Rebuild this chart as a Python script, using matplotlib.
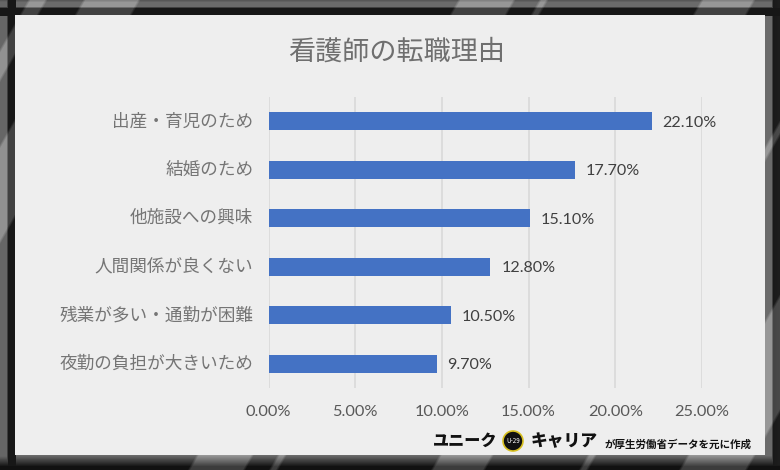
import numpy as np
import matplotlib
matplotlib.use('Agg')
import matplotlib.pyplot as plt
from matplotlib.patches import Rectangle, Circle
from matplotlib.transforms import ScaledTranslation

plt.rcParams['font.family'] = ['Noto Sans CJK JP', 'DejaVu Sans']

W, H = 780, 470

#### data ####
categories = ['夜勤の負担が大きいため', '残業が多い・通勤が困難', '人間関係が良くない',
              '他施設への興味', '結婚のため', '出産・育児のため']
values = [9.7, 10.5, 12.8, 15.1, 17.7, 22.1]
xticks = [0, 5, 10, 15, 20, 25]
title = '看護師の転職理由'

# diagonal bands of the frame, x + 0.575*y in pixels
bands = [(27, 47), (82, 140), (457, 515), (538, 548), (700, 755), (848, 858), (948, 1017)]

fig = plt.figure(figsize=(W / 100, H / 100), dpi=100)

#### frame ####
bg = fig.add_axes([0, 0, 1, 1])
bg.set_xlim(0, W)
bg.set_ylim(H, 0)
bg.axis('off')

yy, xx = np.mgrid[0:H, 0:W]
left_side = np.interp(xx, [0, 6, 8, 15, 15.01], [0.40, 0.40, 0.09, 0.09, 1])
top_side = np.interp(yy, [0, 2, 6, 8, 15, 15.01], [0.34, 0.42, 0.42, 0.09, 0.09, 1])
right_side = np.interp(xx, [765, 771, 773, 780], [0.42, 0.42, 0.10, 0.12], left=1)
bottom_side = np.interp(yy, [455, 466, 470], [0.42, 0.07, 0.07], left=1)
shade = np.minimum(np.minimum(left_side, right_side), np.minimum(top_side, bottom_side))
c = xx + 0.575 * yy
for c0, c1 in bands:
    shade = shade + 0.17 * np.clip((c - c0) / 3, 0, 1) * np.clip((c1 - c) / 3, 0, 1)
bg.imshow(shade, cmap='gray', vmin=0, vmax=1, extent=(0, W, H, 0), aspect='auto', zorder=0)
bg.add_patch(Rectangle((15, 15), 750, 440, color='#eeeeee', lw=0, zorder=2))

#### chart ####
left, right, top, bottom = 268.5, 702, 97, 388
ax = fig.add_axes([left / W, 1 - bottom / H, (right - left) / W, (bottom - top) / H])
ax.patch.set_alpha(0)
y = np.arange(len(categories))
ax.barh(y, values, height=0.37, color='#4472c4', zorder=3)
ax.set_xlim(0, 25)
ax.set_ylim(-0.5, len(categories) - 0.5)
ax.set_yticks(y)
ax.set_yticklabels(categories, fontsize=12.7, color='#757575')
ax.set_xticks(xticks)
ax.set_xticklabels(['%.2f%%' % v for v in xticks], fontsize=11.8, color='#595959',
                   family=['Lato', 'DejaVu Sans'])
ax.tick_params(length=0)
ax.tick_params(axis='y', pad=11)
ax.tick_params(axis='x', pad=12)
ax.grid(axis='x', color='#d9d9d9', lw=1.2, zorder=0)
for s in ax.spines.values():
    s.set_visible(False)

# category labels sit a bit above the bar centre
for lab in ax.get_yticklabels():
    lab.set_transform(lab.get_transform() + ScaledTranslation(0, 1.5 / 72, fig.dpi_scale_trans))

for i, v in enumerate(values):
    ax.text(v + 0.62, i - 0.03, '%.2f%%' % v, va='center', ha='left', fontsize=11.6, color='#404040',
            family=['Lato', 'DejaVu Sans'])

#### texts on the frame ####
bg.text(397, 52, title, ha='center', va='center', fontsize=19.5, color='#6f6f6f', zorder=4)

bg.text(433, 441, 'ユニーク', ha='left', va='center', fontsize=11.6, fontweight='black', color='#111111', zorder=4)
bg.add_patch(Circle((513, 441), 10, facecolor='#111111', edgecolor='#d8c020', lw=1.2, zorder=4))
bg.text(513, 441, 'U-29', ha='center', va='center', fontsize=4.5, color='white', zorder=5)
bg.text(531, 441, 'キャリア', ha='left', va='center', fontsize=12.1, fontweight='black', color='#111111', zorder=4)
bg.text(604, 445, 'が厚生労働省データを元に作成', ha='left', va='center', fontsize=7.6, fontweight='bold',
        color='#111111', zorder=4)

fig.savefig('out.png', dpi=100)
